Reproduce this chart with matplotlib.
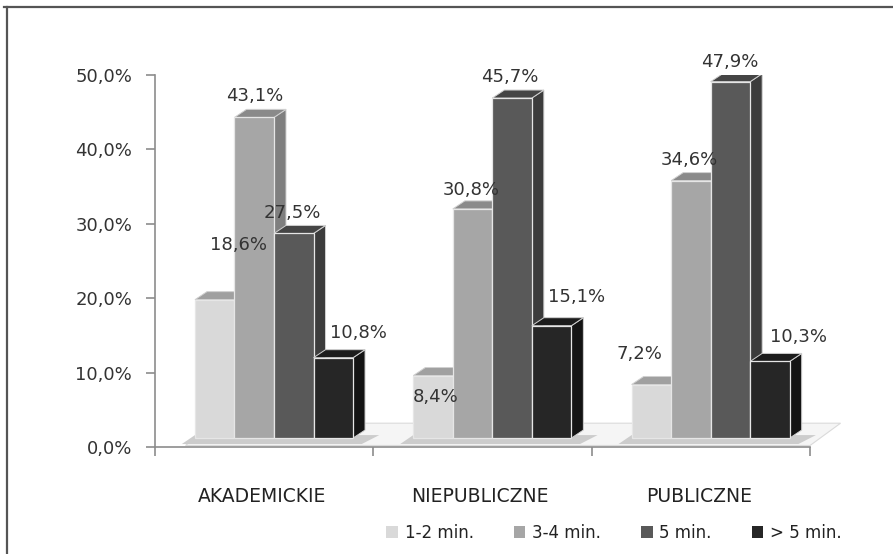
import numpy as np
import matplotlib.pyplot as plt
from matplotlib.patches import Polygon, Rectangle
from matplotlib.lines import Line2D

categories = ['AKADEMICKIE', 'NIEPUBLICZNE', 'PUBLICZNE']
series = ['1-2 min.', '3-4 min.', '5 min.', '> 5 min.']
values = {
    '1-2 min.': [18.6, 8.4, 7.2],
    '3-4 min.': [43.1, 30.8, 34.6],
    '5 min.': [27.5, 45.7, 47.9],
    '> 5 min.': [10.8, 15.1, 10.3],
}
yticks = [0, 10, 20, 30, 40, 50]

# face colours: front, side, top
front = ['#d9d9d9', '#a6a6a6', '#595959', '#262626']
side = ['#b0b0b0', '#7f7f7f', '#3c3c3c', '#141414']
top = ['#a0a0a0', '#8a8a8a', '#454545', '#1c1c1c']

# label offsets in pixels (dx, dy) from the top centre of each front face
offs = {
    '1-2 min.': [(24, 55), (3, -21), (-12, 31)],
    '3-4 min.': [(0, 21), (-1, 19), (-2, 21)],
    '5 min.': [(-1, 20), (-2, 21), (-1, 20)],
    '> 5 min.': [(25, 25), (25, 29), (29, 24)],
}

W, H = 893, 554
fig = plt.figure(figsize=(W / 100, H / 100), dpi=100)
fig.patch.set_facecolor('white')

# frame (only top and left edges fall inside the image)
fig.add_artist(Line2D([4 / W, 1], [1 - 7 / H, 1 - 7 / H], color='#555555', lw=1.6))
fig.add_artist(Line2D([7 / W, 7 / W], [0, 1 - 7 / H], color='#555555', lw=1.6))

ax = fig.add_axes([155 / W, 107 / H, 655 / W, 372 / H])
ax.set_xlim(0, 3)
ax.set_ylim(0, 50)
ax.patch.set_alpha(0)

bw = 0.181      # bar width (category units)
x0 = 0.183      # first bar offset inside a category
base = 1.2      # front faces stand a little above the axis plane
ddx = 0.055     # depth offset
ddy = 1.08

# floor plane
floor = Polygon([(0.14, 0.2), (3.0, 0.2), (3.0 + 0.14, 3.2), (0.14 + 0.12, 3.2)],
                closed=True, facecolor='#f5f5f5', edgecolor='#dadada', lw=0.8,
                zorder=1, clip_on=False)
ax.add_patch(floor)

# soft shadows under each group
for i in range(3):
    l = i + x0
    r = i + x0 + 4 * bw
    sh = Polygon([(l - 0.06, 0.4), (r + 0.04, 0.4), (r + 0.12, 1.6), (l + 0.0, 1.6)],
                 closed=True, facecolor='#cccccc', edgecolor='none', zorder=1.5,
                 clip_on=False)
    ax.add_patch(sh)

z = 2
for i in range(3):
    for j, s in enumerate(series):
        v = values[s][i]
        left = i + x0 + j * bw
        ax.bar(left, v, width=bw, bottom=base, align='edge', color=front[j],
               edgecolor='#e6e6e6', linewidth=0.9, zorder=z + 0.2)
        ytop = base + v
        sd = Polygon([(left + bw, base), (left + bw + ddx, base + ddy),
                      (left + bw + ddx, ytop + ddy), (left + bw, ytop)],
                     closed=True, facecolor=side[j], edgecolor='#d0d0d0',
                     lw=0.7, zorder=z)
        tp = Polygon([(left, ytop), (left + bw, ytop),
                      (left + bw + ddx, ytop + ddy), (left + ddx, ytop + ddy)],
                     closed=True, facecolor=top[j], edgecolor='#d0d0d0',
                     lw=0.7, zorder=z + 0.1)
        ax.add_patch(sd)
        ax.add_patch(tp)
        z += 1

# data labels
for i in range(3):
    for j, s in enumerate(series):
        v = values[s][i]
        cx = i + x0 + j * bw + bw / 2
        dx, dy = offs[s][i]
        ax.annotate(('%.1f%%' % v).replace('.', ','), (cx, base + v),
                    xytext=(dx, dy), textcoords='offset pixels',
                    ha='center', va='center', fontsize=13, color='#333333',
                    zorder=100, annotation_clip=False)

# axes styling
for k in ['top', 'right']:
    ax.spines[k].set_visible(False)
ax.spines['left'].set_color('#8c8c8c')
ax.spines['bottom'].set_color('#8c8c8c')
ax.spines['left'].set_linewidth(1.2)
ax.spines['bottom'].set_linewidth(1.2)

ax.set_yticks(yticks)
ax.set_yticklabels([('%.1f%%' % t).replace('.', ',') for t in yticks])
ax.tick_params(axis='y', length=6.5, width=1.2, color='#8c8c8c', pad=10,
               labelsize=13, labelcolor='#333333')

ax.set_xticks([0.49, 1.49, 2.49])
ax.set_xticklabels(categories)
ax.tick_params(axis='x', which='major', length=0, pad=29, labelsize=13.5,
               labelcolor='#222222')
ax.set_xticks([0, 1, 2, 3], minor=True)
ax.tick_params(axis='x', which='minor', length=6.5, width=1.2, color='#8c8c8c')

handles = [Rectangle((0, 0), 1, 1, facecolor=front[j], edgecolor='none')
           for j in range(4)]
fig.legend(handles, series, loc='center', bbox_to_anchor=(614 / W, 1 - 533 / H),
           ncol=4, frameon=False, fontsize=12, handlelength=0.7,
           handleheight=0.7, handletextpad=0.4, columnspacing=2.4,
           labelcolor='#222222')

fig.savefig('out.png', dpi=100)
